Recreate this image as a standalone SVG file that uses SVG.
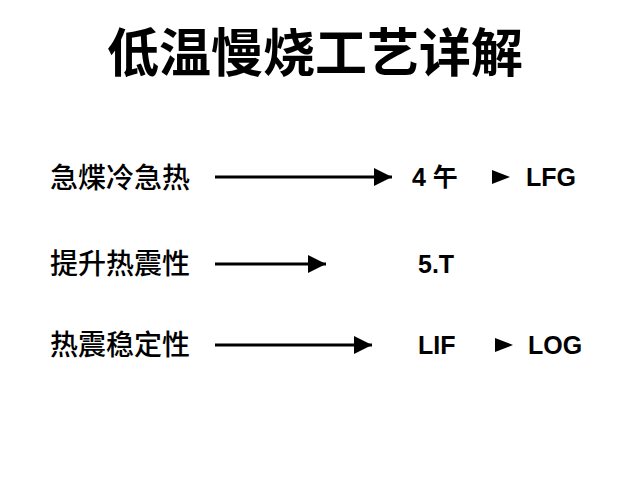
<svg xmlns="http://www.w3.org/2000/svg" width="640" height="480" viewBox="0 0 640 480">
<style>
text{font-family:"Liberation Sans","Noto Sans CJK SC",sans-serif;fill:#000;font-weight:bold}
.t{font-size:52px}
.l{font-size:28px;font-weight:500}
.r{font-size:25px}
line{stroke:#000;stroke-width:3}
</style>
<defs><marker id="h" viewBox="0 0 10 10" refX="10" refY="5" markerWidth="18" markerHeight="18" orient="auto" markerUnits="userSpaceOnUse"><path d="M0,0L10,5L0,10z"/></marker></defs>
<rect width="640" height="480" fill="#fff"/>
<text class="t" x="315" y="72" text-anchor="middle">低温慢烧工艺详解</text>
<g id="n1"><text class="l" x="50" y="188">急煠冷急热</text></g>
<g id="n2"><text class="l" x="50" y="274">提升热震性</text></g>
<g id="n3"><text class="l" x="50" y="355">热震稳定性</text></g>
<g id="n4"><text class="r" x="412" y="186">4 午</text></g>
<g id="n5"><text class="r" x="526" y="186">LFG</text></g>
<g id="n6"><text class="r" x="418" y="273">5.T</text></g>
<g id="n7"><text class="r" x="418" y="354">LIF</text></g>
<g id="n8"><text class="r" x="528" y="354">LOG</text></g>
<g id="connectors">
<line x1="215" y1="177" x2="392" y2="177" marker-end="url(#h)"/>
<line x1="215" y1="264" x2="326" y2="264" marker-end="url(#h)"/>
<line x1="215" y1="345" x2="372" y2="345" marker-end="url(#h)"/>
<path d="M492,170L510,177L492,184z"/>
<path d="M495,338L513,345L495,352z"/>
</g>
</svg>
